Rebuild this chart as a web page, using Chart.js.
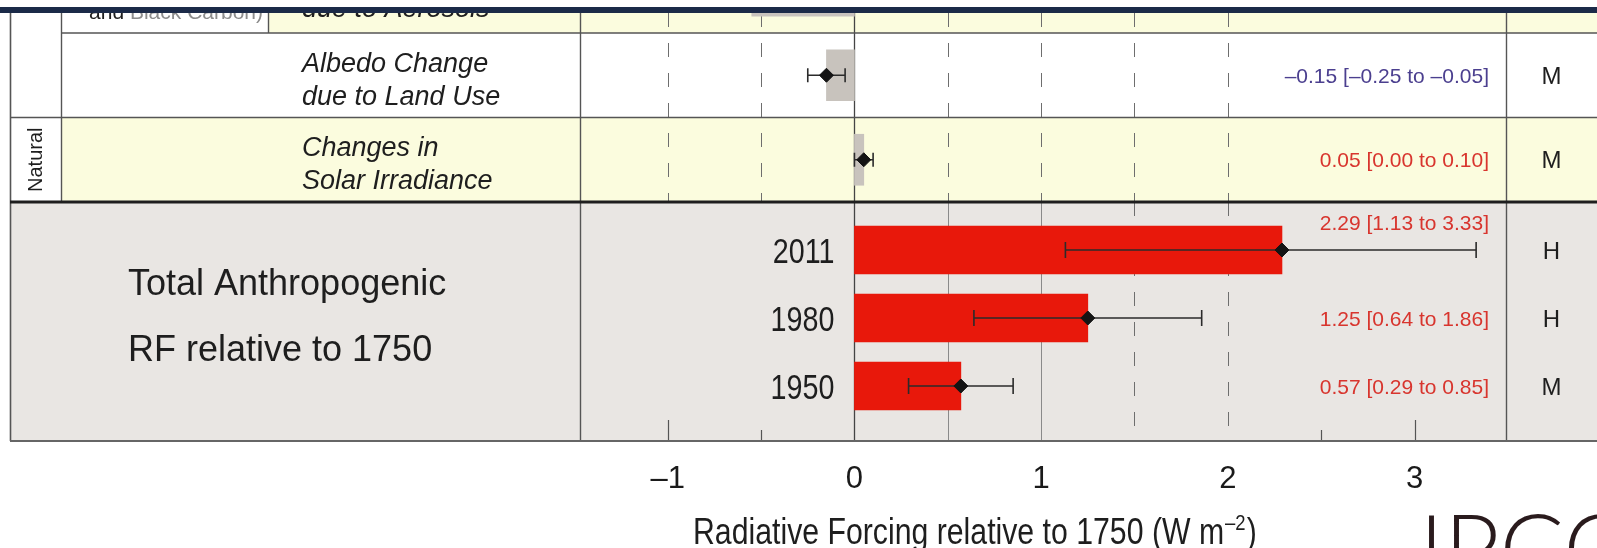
<!DOCTYPE html>
<html>
<head>
<meta charset="utf-8">
<script src="https://cdn.jsdelivr.net/npm/chart.js@4.4.1/dist/chart.umd.min.js"></script>
<style>
  html, body { margin: 0; padding: 0; background: #fff; }
  canvas { display: block; }
</style>
</head>
<body>
<canvas id="rf" width="1597" height="548"></canvas>
<script>
// individual forcings (the first row is cut off by the frame at the top)
const topRows = ['Cloud Adjustments due to Aerosols', 'Albedo Change due to Land Use', 'Changes in Solar Irradiance'];
const topBest = [-0.55, -0.15, 0.05];
const topLow = [-1.33, -0.25, 0.00];
const topHigh = [-0.06, -0.05, 0.10];
const topConf = ['L', 'M', 'M'];

// total anthropogenic RF relative to 1750
const years = ['2011', '1980', '1950'];
const totalBest = [2.29, 1.25, 0.57];
const totalLow = [1.13, 0.64, 0.29];
const totalHigh = [3.33, 1.86, 0.85];
const totalConf = ['H', 'H', 'M'];

const xTicks = [-1, 0, 1, 2, 3];

// page geometry
const W = 1597, H = 548;
const plotL = 580, plotR = 1506, plotB = 441;
const frameT = 13;
const topRowH = 84.5, firstTopLine = 33;
const totalRowH = 68, firstTotalY = 250;

const YELLOW = '#fbfcde', GRAY = '#e9e6e3', LINE = '#555', GRID = '#6e6e6e';
const RED_TXT = '#d8352e', BLUE_TXT = '#4b3f8f';
const SANS = '"Liberation Sans", Arial, sans-serif';

function fontExists(name) {
  const c = document.createElement('canvas').getContext('2d');
  const probe = 'Radiative Forcing 0123';
  c.font = '40px monospace';
  const a = c.measureText(probe).width;
  c.font = '40px "' + name + '", monospace';
  return Math.abs(c.measureText(probe).width - a) > 0.5;
}
const narrow = fontExists('Liberation Sans Narrow');
const tickFont = narrow ? { family: '"Liberation Sans Narrow"', size: 38 } : { family: SANS, size: 31 };

const fmt = v => v.toFixed(2).replace('-', '\u2013');

function txt(ctx, s, x, y, font, color, align, sx) {
  ctx.save();
  ctx.font = font;
  ctx.fillStyle = color;
  ctx.textAlign = align || 'left';
  ctx.textBaseline = 'alphabetic';
  ctx.translate(x, y);
  ctx.scale(sx || 1, 1);
  ctx.fillText(s, 0, 0);
  ctx.restore();
}

function rect(ctx, x, y, w, h, c) {
  ctx.fillStyle = c;
  ctx.fillRect(x, y, w, h);
}

function vline(ctx, px, y0, y1, dash, color, lw) {
  ctx.save();
  ctx.beginPath();
  ctx.setLineDash(dash || []);
  ctx.strokeStyle = color;
  ctx.lineWidth = lw || 1;
  const xx = Math.round(px) + 0.5;
  ctx.moveTo(xx, y0);
  ctx.lineTo(xx, y1);
  ctx.stroke();
  ctx.restore();
}

function hline(ctx, y, x0, x1, color, lw) {
  ctx.save();
  ctx.beginPath();
  ctx.strokeStyle = color;
  ctx.lineWidth = lw || 1;
  ctx.moveTo(x0, y);
  ctx.lineTo(x1, y);
  ctx.stroke();
  ctx.restore();
}

function errBar(ctx, x, y, lo, hi, cap) {
  const x0 = x.getPixelForValue(lo), x1 = x.getPixelForValue(hi);
  ctx.save();
  ctx.strokeStyle = '#2b2b2b';
  ctx.lineWidth = 1.6;
  ctx.beginPath();
  ctx.moveTo(x0, y); ctx.lineTo(x1, y);
  ctx.moveTo(x0, y - cap / 2); ctx.lineTo(x0, y + cap / 2);
  ctx.moveTo(x1, y - cap / 2); ctx.lineTo(x1, y + cap / 2);
  ctx.stroke();
  ctx.restore();
}

const table = {
  id: 'table',
  beforeDraw(chart) {
    const { ctx, scales: { x, yTop } } = chart;
    const line1 = yTop.getPixelForValue(0.5);
    const line2 = yTop.getPixelForValue(1.5);
    const totalTop = yTop.getPixelForValue(2.5);
    ctx.save();
    rect(ctx, 0, 0, W, H, '#fff');
    // row fills
    rect(ctx, 268, frameT, W - 268, line1 - frameT, YELLOW);
    rect(ctx, 61, line2, W - 61, totalTop - line2, YELLOW);
    rect(ctx, 10, totalTop, W - 10, plotB - totalTop, GRAY);

    // grid lines in the individual rows
    [-1, -0.5, 0.5, 1, 1.5, 2].forEach(v => vline(ctx, x.getPixelForValue(v), frameT, totalTop, [14, 16], GRID, 1));
    // grid lines in the total section
    [0.5, 1].forEach(v => vline(ctx, x.getPixelForValue(v), totalTop, plotB, [], '#8a8a8a', 1));
    [1.5, 2].forEach(v => vline(ctx, x.getPixelForValue(v), totalTop, plotB, [14, 16], GRID, 1));
    [[-1, 21], [-0.5, 11], [2.5, 11], [3, 21]].forEach(([v, l]) => vline(ctx, x.getPixelForValue(v), plotB - l, plotB, [], LINE, 1.2));
    vline(ctx, x.getPixelForValue(0), frameT, plotB, [], '#444', 1.3);

    // table borders
    vline(ctx, 10, frameT, plotB, [], LINE, 1.6);
    vline(ctx, 61, frameT, totalTop, [], LINE, 1.4);
    vline(ctx, 268, frameT, line1, [], LINE, 1.4);
    vline(ctx, plotL, frameT, plotB, [], LINE, 1.4);
    vline(ctx, plotR, frameT, plotB, [], LINE, 1.4);
    hline(ctx, line1, 61, W, LINE, 1.6);
    hline(ctx, line2, 10, W, LINE, 1.6);
    hline(ctx, totalTop, 10, W, '#1e1e1e', 3.2);
    hline(ctx, plotB, 10, W, '#666', 2);
    ctx.restore();
  },
  afterDatasetDraw(chart, args) {
    const { ctx, scales: { x, yTop, yTotal } } = chart;
    const ds = chart.data.datasets[args.index];
    if (ds.label === 'individual') {
      topBest.forEach((v, i) => errBar(ctx, x, yTop.getPixelForValue(i), topLow[i], topHigh[i], 14));
    } else if (ds.label === 'total') {
      totalBest.forEach((v, i) => errBar(ctx, x, yTotal.getPixelForValue(i), totalLow[i], totalHigh[i], 16));
    }
  },
  afterDraw(chart) {
    const { ctx, scales: { x, yTop, yTotal } } = chart;
    const zero = x.getPixelForValue(0);
    const valX = plotR - 17;
    const confX = (plotR + W) / 2;
    const ital = 'italic 27px ' + SANS;

    // left panel
    const bc = 'Black Carbon)';
    txt(ctx, bc, 263, 19, '21px ' + SANS, '#8c8c8c', 'right');
    ctx.font = '21px ' + SANS;
    txt(ctx, 'and ', 263 - ctx.measureText(bc).width, 19, '21px ' + SANS, '#1e1e1e', 'right');
    txt(ctx, 'due to Aerosols', 302, 17, ital, '#1e1e1e');

    const yA = yTop.getPixelForValue(1), yS = yTop.getPixelForValue(2);
    txt(ctx, 'Albedo Change', 302, yA - 3, ital, '#1e1e1e');
    txt(ctx, 'due to Land Use', 302, yA + 30, ital, '#1e1e1e');
    txt(ctx, 'Changes in', 302, yS - 4, ital, '#1e1e1e');
    txt(ctx, 'Solar Irradiance', 302, yS + 29, ital, '#1e1e1e');

    ctx.save();
    ctx.translate(36, yS);
    ctx.rotate(-Math.PI / 2);
    ctx.font = '20px ' + SANS;
    ctx.fillStyle = '#1e1e1e';
    ctx.textAlign = 'center';
    ctx.textBaseline = 'middle';
    ctx.fillText('Natural', 0, 0);
    ctx.restore();

    txt(ctx, 'Total Anthropogenic', 128, 295, '36px ' + SANS, '#1e1e1e');
    txt(ctx, 'RF relative to 1750', 128, 361, '36px ' + SANS, '#1e1e1e');

    // value and confidence columns
    topBest.forEach((v, i) => {
      const y = yTop.getPixelForValue(i);
      txt(ctx, fmt(v) + ' [' + fmt(topLow[i]) + ' to ' + fmt(topHigh[i]) + ']', valX, y + 7.5, '21px ' + SANS, v < 0 ? BLUE_TXT : RED_TXT, 'right');
      txt(ctx, topConf[i], confX, y + 8.5, '24px ' + SANS, '#1e1e1e', 'center');
    });
    totalBest.forEach((v, i) => {
      const y = yTotal.getPixelForValue(i);
      const lift = totalHigh[i] > 2.6 ? 28 : 0;
      txt(ctx, years[i], zero - 20, y + 12.5, '35px ' + SANS, '#1e1e1e', 'right', 0.82);
      txt(ctx, fmt(v) + ' [' + fmt(totalLow[i]) + ' to ' + fmt(totalHigh[i]) + ']', valX, y + 7.5 - lift, '21px ' + SANS, RED_TXT, 'right');
      txt(ctx, totalConf[i], confX, y + 8.5, '24px ' + SANS, '#1e1e1e', 'center');
    });

    // axis title with superscript
    const sx = 0.84, tY = 544;
    let tx = 693;
    const part1 = 'Radiative Forcing relative to 1750 (W m';
    ctx.font = '36px ' + SANS;
    txt(ctx, part1, tx, tY, '36px ' + SANS, '#1e1e1e', 'left', sx);
    tx += ctx.measureText(part1).width * sx;
    txt(ctx, '\u20132', tx + 1, tY - 14, '22px ' + SANS, '#1e1e1e', 'left', sx);
    ctx.font = '22px ' + SANS;
    tx += ctx.measureText('\u20132').width * sx + 2;
    txt(ctx, ')', tx, tY, '36px ' + SANS, '#1e1e1e', 'left', sx);

    // logo fragment bottom right
    txt(ctx, 'IPCC', 1419, 584, '300 96px Lato, ' + SANS, '#2a1b1d', 'left');

    // frame on top
    rect(ctx, 0, 0, W, 7, '#fff');
    rect(ctx, 0, 7, W, 6, '#1b2a48');
  }
};

new Chart(document.getElementById('rf'), {
  type: 'bar',
  data: {
    datasets: [
      {
        label: 'individual best', type: 'scatter', xAxisID: 'x', yAxisID: 'yTop', order: 1,
        data: topBest.map((v, i) => ({ x: v, y: i })),
        pointStyle: 'rectRot', pointRadius: 7, backgroundColor: '#141414', borderColor: '#141414', borderWidth: 1
      },
      {
        label: 'total best', type: 'scatter', xAxisID: 'x', yAxisID: 'yTotal', order: 1,
        data: totalBest.map((v, i) => ({ x: v, y: i })),
        pointStyle: 'rectRot', pointRadius: 7, backgroundColor: '#141414', borderColor: '#141414', borderWidth: 1
      },
      {
        label: 'individual', xAxisID: 'x', yAxisID: 'yTop', order: 2, grouped: false,
        data: topBest.map((v, i) => ({ x: v, y: i })),
        backgroundColor: '#c8c3bd', barThickness: 51
      },
      {
        label: 'total', xAxisID: 'x', yAxisID: 'yTotal', order: 2, grouped: false,
        data: totalBest.map((v, i) => ({ x: v, y: i })),
        backgroundColor: '#e8180b', barThickness: 48
      }
    ]
  },
  options: {
    indexAxis: 'y',
    responsive: false,
    animation: false,
    layout: { padding: { left: plotL, right: W - plotR, top: 0, bottom: 0 }, autoPadding: false },
    plugins: { legend: { display: false }, tooltip: { enabled: false } },
    scales: {
      x: {
        type: 'linear', min: -1.47, max: 3.49,
        grid: { display: false, drawTicks: false },
        border: { display: false },
        afterBuildTicks: s => { s.ticks = xTicks.map(v => ({ value: v })); },
        afterFit: s => { s.height = H - plotB; },
        ticks: {
          padding: 20, color: '#1a1a1a', font: tickFont,
          callback: v => String(v).replace('-', '\u2013')
        }
      },
      yTop: {
        type: 'linear', axis: 'y', display: false, reverse: true, offset: false, bounds: 'data',
        min: 0.5 - firstTopLine / topRowH,
        max: 0.5 - firstTopLine / topRowH + plotB / topRowH
      },
      yTotal: {
        type: 'linear', axis: 'y', display: false, reverse: true, offset: false, bounds: 'data',
        min: -firstTotalY / totalRowH,
        max: -firstTotalY / totalRowH + plotB / totalRowH
      }
    }
  },
  plugins: [table]
});
</script>
</body>
</html>
